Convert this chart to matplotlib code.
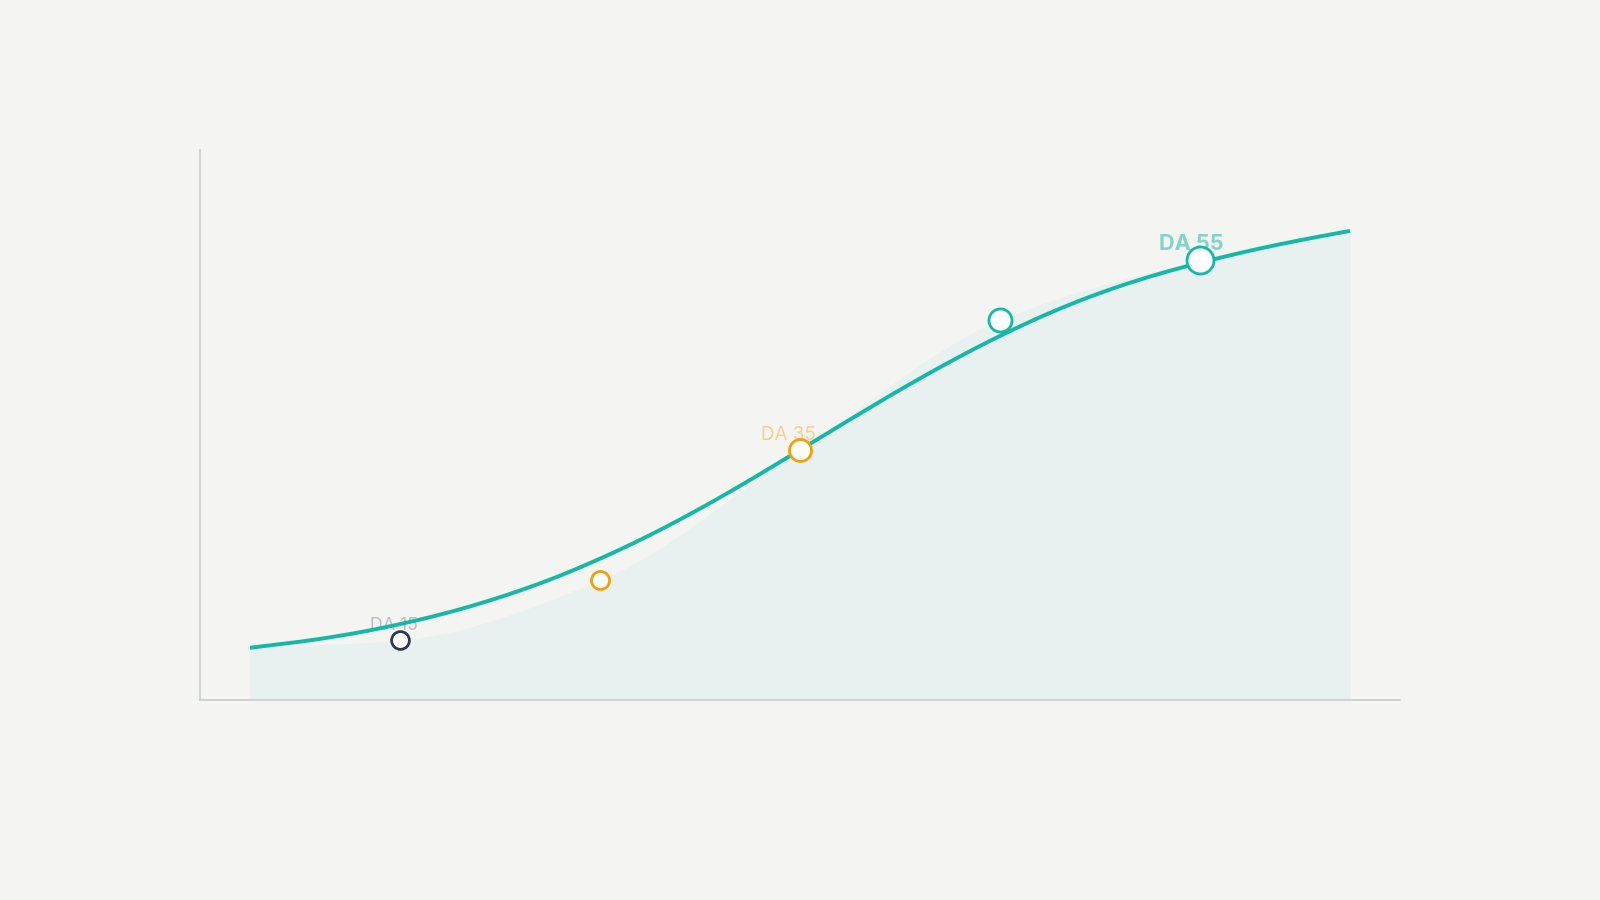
import numpy as np
import matplotlib
matplotlib.use("Agg")
import matplotlib.pyplot as plt

# ---- data ----
doses = [15, 25, 35, 45, 55]
responses = [10.9, 21.8, 45.5, 69.1, 80.0]
point_colors = ["#2e3a4e", "#f59e0b", "#f59e0b", "#14b8a6", "#14b8a6"]
point_sizes = [12.8, 13.0, 15.8, 16.6, 19.4]
labels = {15: "DA 15", 35: "DA 35", 55: "DA 55"}
label_colors = {15: "#b9bcc0", 35: "#f6d092", 55: "#80d5c7"}
label_sizes = {15: 12.8, 35: 13.6, 55: 15.6}
label_weights = {15: "normal", 35: "normal", 55: "bold"}
label_dx = {15: -6, 35: -12, 55: -9}

curve_x = [7.5, 10, 12.5, 15, 17.5, 20, 22.5, 25, 27.5, 30, 32.5, 35, 37.5,
           40, 42.5, 45, 47.5, 50, 52.5, 55, 57.5, 60, 62.5]
curve_y = [9.5, 10.6, 12.0, 13.8, 16.0, 18.7, 21.9, 25.7, 30.0, 34.8, 40.0,
           45.5, 51.0, 56.4, 61.5, 66.2, 70.4, 74.0, 77.0, 79.5, 81.7, 83.6, 85.3]

BG = "#f4f4f2"
TEAL = "#14b8a6"
FILL = "#e8f1ef"
AXIS = "#c8cccc"


def monotone(xs, ys, n=400):
    xs = np.asarray(xs, float)
    ys = np.asarray(ys, float)
    h = np.diff(xs)
    d = np.diff(ys) / h
    m = np.zeros_like(ys)
    m[0], m[-1] = d[0], d[-1]
    for i in range(1, len(xs) - 1):
        if d[i - 1] * d[i] <= 0:
            m[i] = 0
        else:
            w1 = 2 * h[i] + h[i - 1]
            w2 = h[i] + 2 * h[i - 1]
            m[i] = (w1 + w2) / (w1 / d[i - 1] + w2 / d[i])
    xx = np.linspace(xs[0], xs[-1], n)
    idx = np.clip(np.searchsorted(xs, xx) - 1, 0, len(xs) - 2)
    t = (xx - xs[idx]) / h[idx]
    h00 = 2 * t**3 - 3 * t**2 + 1
    h10 = t**3 - 2 * t**2 + t
    h01 = -2 * t**3 + 3 * t**2
    h11 = t**3 - t**2
    yy = (h00 * ys[idx] + h10 * h[idx] * m[idx] + h01 * ys[idx + 1]
          + h11 * h[idx] * m[idx + 1])
    return xx, yy


fig = plt.figure(figsize=(16, 9), dpi=100, facecolor=BG)
ax = fig.add_axes([0.125, 0.2222, 0.75, 0.6111], facecolor=BG)
ax.set_xlim(5, 65)
ax.set_ylim(0, 100)

# area (smoothed through observed points, anchored on curve ends)
fx = [curve_x[0]] + doses + [curve_x[-1]]
fy = [curve_y[0]] + responses + [curve_y[-1]]
axx, ayy = monotone(fx, fy)
ax.fill_between(axx, 0, ayy, color=FILL, lw=0, zorder=1)

# labels
for d, r in zip(doses, responses):
    if d in labels:
        ax.annotate(labels[d], (d, r), xytext=(label_dx[d] * 0.72, 10 * 0.72),
                    textcoords="offset points", ha="center", va="baseline",
                    fontsize=label_sizes[d], color=label_colors[d],
                    fontweight=label_weights[d], family=["Inter", "DejaVu Sans"],
                    zorder=2)

# fitted curve
cx, cy = monotone(curve_x, curve_y)
ax.plot(cx, cy, color=TEAL, lw=2.8, solid_capstyle="butt", zorder=3)

# points
for d, r, c, s in zip(doses, responses, point_colors, point_sizes):
    ax.plot([d], [r], marker="o", ms=s, mfc="white", mec=c, mew=2.0,
            ls="none", zorder=4)

for side in ["top", "right"]:
    ax.spines[side].set_visible(False)
for side in ["left", "bottom"]:
    ax.spines[side].set_color(AXIS)
    ax.spines[side].set_linewidth(1.2)
ax.set_xticks([])
ax.set_yticks([])

fig.savefig("out.png", dpi=100, facecolor=BG)
